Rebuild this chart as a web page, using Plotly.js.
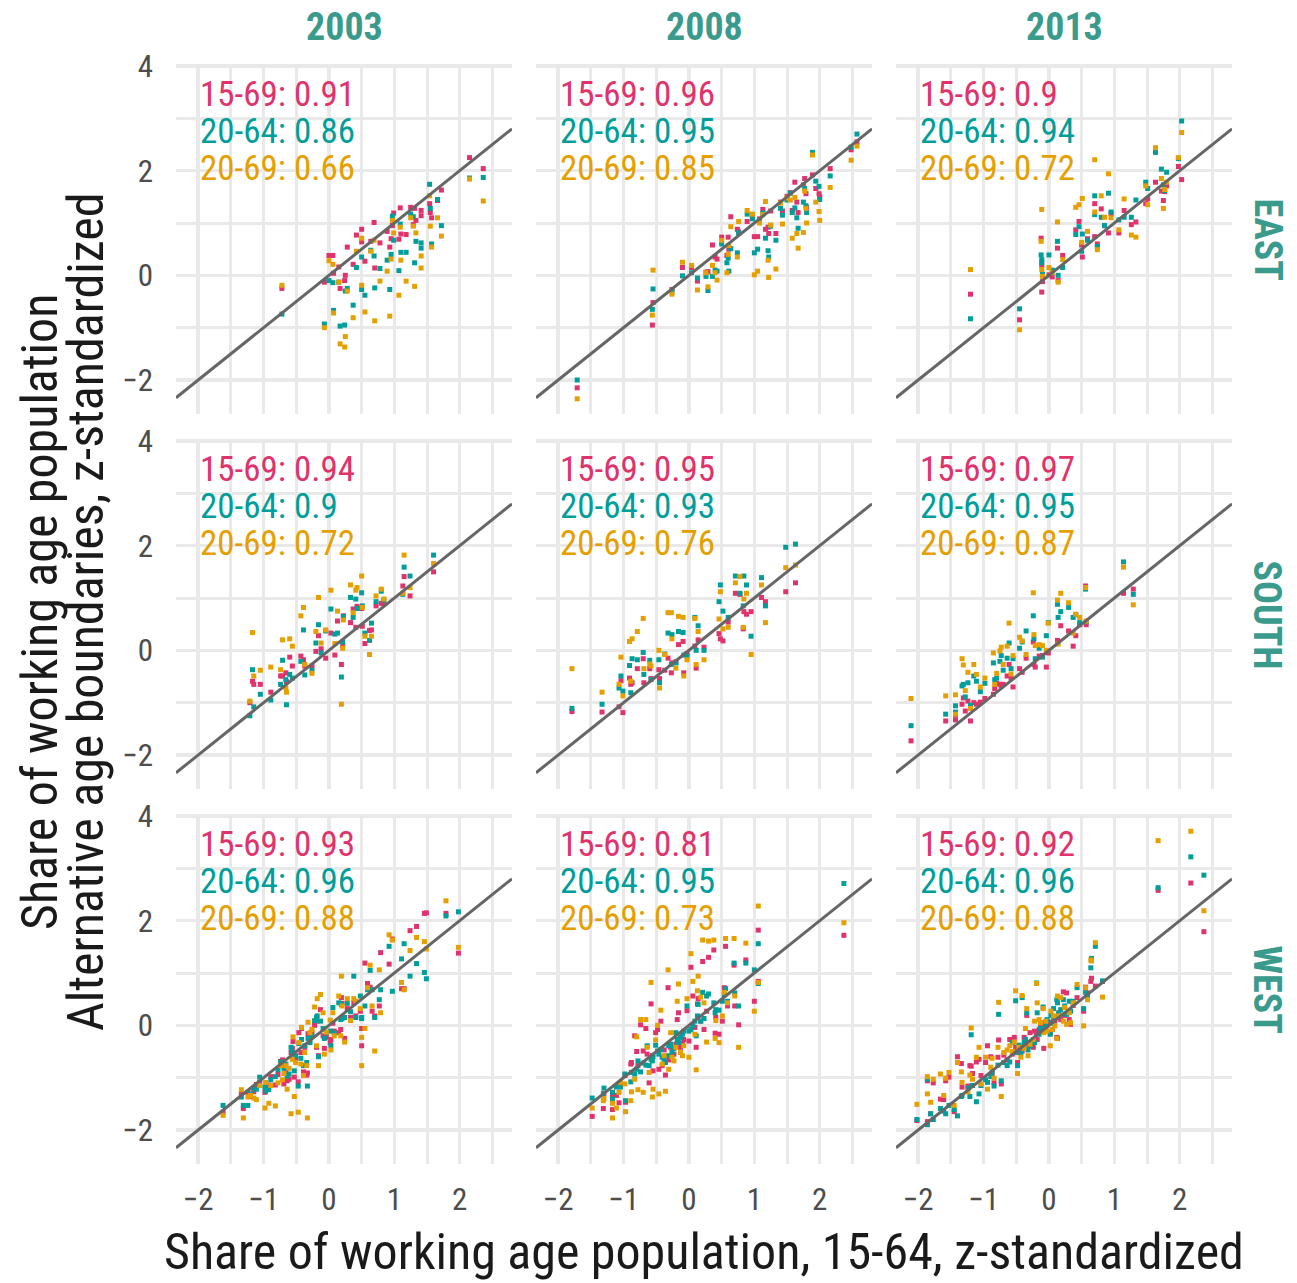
<!DOCTYPE html>
<html>
<head>
<meta charset="utf-8">
<script src="https://cdn.plot.ly/plotly-3.0.1.min.js"></script>
<style>
html,body{margin:0;padding:0;background:#fff;}
#chart{width:1297px;height:1283px;}
.main-svg text{font-stretch:condensed !important;}
</style>
</head>
<body>
<div id="chart"></div>
<script>
// ---------------- DATA ----------------
const years = ['2003', '2008', '2013'];
const regions = ['EAST', 'SOUTH', 'WEST'];
const seriesNames = ['15-69', '20-64', '20-69'];
// correlation labels per panel (row-major: EAST 2003, 2008, 2013, SOUTH ..., WEST ...)
const corr15_69 = [0.91, 0.96, 0.9, 0.94, 0.95, 0.97, 0.93, 0.81, 0.92];
const corr20_64 = [0.86, 0.95, 0.94, 0.9, 0.93, 0.95, 0.96, 0.95, 0.96];
const corr20_69 = [0.66, 0.85, 0.72, 0.72, 0.76, 0.87, 0.88, 0.73, 0.88];

// EAST 2003
const east2003_x = [-0.72,-0.07,0.00,0.06,0.07,0.15,0.17,0.24,0.25,0.28,0.37,0.42,0.50,0.50,0.55,0.64,0.69,0.70,0.78,0.89,0.93,0.95,0.97,0.99,1.07,1.09,1.10,1.18,1.25,1.29,1.31,1.33,1.41,1.41,1.54,1.55,1.57,1.66,1.72,2.15,2.36];
const east2003_a = [-0.25,-0.13,0.38,0.38,0.04,0.16,-0.25,-0.10,0.00,0.54,0.21,0.77,0.88,0.64,0.27,0.65,1.01,0.14,0.62,0.84,0.54,0.70,0.95,1.19,0.69,1.29,0.79,0.78,1.30,0.97,1.28,1.05,1.24,1.14,1.37,1.20,1.10,1.43,1.63,2.25,2.04];
const east2003_b = [-0.74,-0.93,-0.10,-0.14,-0.67,-0.13,-0.97,-0.95,-0.30,-0.25,-0.57,0.15,0.35,-0.27,-0.38,0.48,0.37,-0.24,0.13,0.29,-0.27,0.40,1.13,0.67,0.09,0.98,0.44,0.44,1.17,1.12,0.24,0.65,0.62,0.52,1.74,1.28,0.60,1.45,0.95,1.86,1.87];
const east2003_c = [-0.19,-1.00,0.28,0.21,-0.72,-0.13,-1.31,-1.37,-1.17,-0.30,-0.81,0.46,0.71,-0.19,-0.70,0.46,0.67,-0.87,-0.11,0.08,-0.78,0.31,1.05,0.81,-0.38,0.92,0.29,-0.11,1.10,0.94,-0.21,0.81,0.37,0.14,1.52,0.94,0.54,1.10,0.75,1.84,1.42];

// EAST 2008
const east2008_x = [-1.71,-0.56,-0.55,-0.26,-0.10,0.04,0.13,0.26,0.29,0.36,0.40,0.43,0.50,0.58,0.60,0.61,0.64,0.74,0.76,0.89,0.97,1.00,1.05,1.08,1.13,1.17,1.21,1.22,1.25,1.33,1.40,1.43,1.50,1.55,1.58,1.62,1.65,1.67,1.75,1.77,1.79,1.80,1.89,1.94,1.99,2.00,2.16,2.48,2.57];
const east2008_a = [-2.15,-0.95,-0.52,-0.27,0.15,0.15,-0.11,0.06,0.07,0.58,0.35,0.31,0.73,0.38,0.73,0.50,1.12,0.88,0.83,1.03,1.13,0.74,0.74,1.08,1.26,0.88,0.92,0.80,1.23,0.80,1.40,1.23,1.51,1.58,1.24,1.78,1.40,1.20,1.73,1.85,1.56,1.30,1.92,1.66,1.56,1.50,2.04,2.40,2.55];
const east2008_b = [-2.00,-0.65,-0.26,-0.30,-0.01,0.05,-0.05,-0.02,-0.29,-0.02,0.10,0.08,0.60,0.24,0.33,0.08,0.51,0.43,0.81,1.17,1.08,0.43,0.50,1.05,1.19,0.71,0.47,0.35,0.94,0.67,1.28,1.15,1.44,1.57,1.20,1.29,1.10,0.90,1.40,1.66,1.33,1.20,2.35,1.80,1.70,1.45,1.90,2.45,2.70];
const east2008_c = [-2.36,-0.76,0.10,-0.36,0.25,0.19,-0.28,0.05,-0.22,0.19,0.05,-0.09,0.67,0.05,0.40,0.57,0.93,0.35,1.03,1.24,1.17,0.01,0.08,1.00,1.16,1.41,0.29,-0.04,0.96,0.12,1.38,0.98,1.48,1.44,0.71,1.49,0.80,0.52,0.82,1.61,1.28,1.00,2.30,1.40,1.22,1.05,1.68,2.20,2.47];

// EAST 2013
const east2013_x = [-1.20,-0.45,-0.12,-0.11,-0.10,-0.11,0.00,0.05,0.13,0.14,0.21,0.41,0.46,0.51,0.50,0.59,0.70,0.70,0.74,0.80,0.85,0.91,0.95,1.07,1.15,1.26,1.33,1.48,1.51,1.63,1.72,1.75,1.77,1.80,1.98,2.03];
const east2013_a = [-0.36,-0.85,0.71,0.19,-0.12,-0.32,0.01,-0.03,0.52,-0.10,0.38,0.87,1.03,0.35,0.58,0.70,1.37,0.74,0.60,1.27,0.95,0.81,1.18,0.81,1.24,0.97,1.02,1.37,1.46,1.78,1.61,1.43,1.60,1.71,2.08,1.83];
const east2013_b = [-0.83,-0.64,0.39,0.30,0.02,0.24,0.39,0.10,0.65,0.00,0.15,0.78,0.93,0.79,0.46,0.67,1.52,1.16,0.55,1.11,0.95,1.57,1.21,1.06,1.11,1.11,1.44,1.78,1.66,2.35,2.03,1.73,1.62,1.97,2.23,2.95];
const east2013_c = [0.11,-1.04,0.65,0.11,-0.02,1.26,0.15,0.05,1.02,-0.13,0.30,1.30,1.35,1.47,0.63,0.84,2.21,1.21,0.49,1.52,1.11,1.94,1.10,0.87,1.46,0.77,0.73,1.71,1.35,2.44,1.85,1.28,1.64,1.78,2.25,2.73];

// SOUTH 2003
const south2003_x = [-1.21,-1.17,-1.15,-1.05,-0.89,-0.74,-0.71,-0.66,-0.65,-0.60,-0.56,-0.43,-0.39,-0.37,-0.26,-0.20,-0.16,-0.12,-0.05,0.03,0.09,0.13,0.19,0.21,0.22,0.33,0.37,0.41,0.43,0.50,0.51,0.55,0.62,0.65,0.72,0.80,0.84,1.13,1.15,1.24,1.60];
const south2003_a = [-1.00,-0.59,-0.65,-0.65,-0.80,-0.49,-0.49,-0.43,-0.60,-0.13,-0.30,-0.11,-0.18,-0.30,-0.30,-0.02,0.28,0.03,-0.15,0.33,-0.09,0.56,-0.27,0.09,0.66,0.53,0.79,0.44,0.84,0.80,0.46,0.13,0.38,0.39,0.85,0.90,0.89,1.23,1.41,1.04,1.50];
const south2003_b = [-1.25,-0.37,-1.08,-0.84,-0.95,-0.65,-0.19,-0.56,-1.04,-0.46,-0.53,-0.21,0.39,-0.47,-0.38,0.14,0.49,-0.05,0.37,0.79,0.31,0.33,-0.51,0.16,0.65,1.01,0.63,0.98,0.80,1.10,0.85,0.33,0.19,0.52,0.93,1.13,0.96,1.07,1.59,1.42,1.82];
const south2003_c = [-0.97,0.34,-0.49,-0.38,-0.32,-0.37,0.20,-0.72,-0.80,0.22,0.08,0.66,0.82,-0.27,-0.44,0.36,1.01,0.14,0.39,1.15,0.13,0.75,-1.03,0.04,0.58,1.25,0.72,1.15,1.20,1.42,0.82,0.27,-0.08,0.27,1.04,1.17,0.98,1.09,1.82,1.20,1.66];

// SOUTH 2008
const south2008_x = [-1.79,-1.33,-1.07,-1.04,-1.01,-0.91,-0.89,-0.87,-0.79,-0.70,-0.69,-0.60,-0.58,-0.46,-0.45,-0.37,-0.32,-0.27,-0.26,-0.20,-0.16,-0.09,-0.08,-0.03,0.09,0.11,0.14,0.23,0.46,0.48,0.52,0.60,0.71,0.78,0.83,0.84,0.88,0.95,1.11,1.17,1.48,1.63];
const south2008_a = [-1.17,-1.18,-1.08,-0.58,-1.19,-0.53,-0.65,-0.62,-0.35,-0.16,-0.62,-0.35,-0.54,-0.37,-0.54,-0.38,-0.15,-0.43,-0.24,-0.22,0.11,0.17,-0.43,-0.06,0.08,-0.34,0.20,0.06,0.32,0.22,0.18,0.54,1.09,1.07,0.41,0.74,0.69,0.74,1.01,0.93,1.12,1.29];
const south2008_b = [-1.11,-1.03,-0.72,-0.49,-0.78,-0.29,-0.81,-0.16,-0.18,-0.04,-0.46,-0.19,-0.56,-0.18,-0.62,-0.07,0.33,-0.27,0.30,-0.24,0.36,0.34,-0.09,-0.11,0.63,0.00,0.47,0.00,0.93,1.25,0.75,0.63,1.42,1.09,0.85,1.42,1.25,0.27,1.39,0.85,1.97,2.03];
const south2008_c = [-0.35,-0.80,-0.65,-0.13,-0.87,0.17,-0.59,0.22,0.36,0.61,-0.35,-0.26,-0.30,0.00,-0.72,-0.08,0.72,0.72,0.22,-0.34,0.65,0.63,-0.49,-0.18,0.61,-0.27,0.36,-0.18,0.60,1.12,0.41,0.44,1.29,1.41,0.44,0.98,1.09,-0.08,1.25,0.53,1.58,1.63];

// SOUTH 2013
const south2013_x = [-2.11,-1.58,-1.43,-1.43,-1.33,-1.31,-1.28,-1.24,-1.20,-1.15,-1.11,-1.05,-0.98,-0.85,-0.83,-0.80,-0.75,-0.73,-0.70,-0.64,-0.61,-0.58,-0.55,-0.45,-0.41,-0.35,-0.24,-0.23,-0.21,-0.15,-0.10,-0.04,-0.01,0.13,0.14,0.18,0.30,0.37,0.41,0.47,0.56,0.57,1.14,1.29];
const south2013_a = [-1.73,-1.35,-1.33,-1.24,-1.03,-0.91,-1.16,-0.97,-1.35,-1.00,-1.03,-0.99,-0.92,-0.84,-0.73,-0.63,-0.65,-0.68,-0.65,-0.49,-0.27,-0.53,-0.70,-0.35,-0.42,-0.15,0.16,-0.27,-0.32,-0.11,-0.10,-0.32,-0.05,0.19,0.17,0.47,0.37,0.08,0.28,0.49,1.23,0.49,1.09,1.17];
const south2013_b = [-1.44,-1.22,-1.06,-1.18,-0.68,-0.65,-0.89,-0.62,-1.05,-0.49,-0.59,-0.79,-0.63,-0.24,-0.56,-0.53,-0.21,-0.10,-0.38,-0.15,0.14,-0.35,-0.16,0.04,0.16,0.37,0.66,0.22,-0.16,0.04,-0.13,0.28,0.53,0.88,0.63,0.74,0.82,0.63,0.68,0.53,1.17,0.55,1.69,1.07];
const south2013_c = [-0.92,-0.87,-0.85,-1.22,-0.16,-0.28,-0.77,-0.42,-1.11,-0.27,-0.46,-0.70,-0.53,-0.05,-0.65,-0.44,-0.01,0.06,-0.27,0.08,0.52,-0.45,-0.10,0.25,0.18,-0.08,1.10,0.30,0.09,0.11,0.09,0.00,0.52,0.96,0.12,1.09,0.91,0.33,0.69,0.63,1.20,0.56,1.59,0.87];

// WEST 2003
const west2003_x = [-1.62,-1.34,-1.31,-1.24,-1.20,-1.15,-1.11,-1.06,-0.98,-0.97,-0.92,-0.89,-0.82,-0.78,-0.74,-0.71,-0.69,-0.66,-0.64,-0.61,-0.58,-0.56,-0.55,-0.53,-0.51,-0.47,-0.46,-0.43,-0.42,-0.39,-0.37,-0.34,-0.33,-0.32,-0.29,-0.26,-0.22,-0.19,-0.18,-0.16,-0.13,-0.09,-0.07,-0.04,0.02,0.03,0.06,0.08,0.15,0.18,0.19,0.20,0.24,0.28,0.33,0.38,0.41,0.48,0.50,0.50,0.55,0.59,0.63,0.66,0.70,0.77,0.79,0.92,0.97,1.11,1.15,1.24,1.34,1.46,1.49,1.79,1.98];
const west2003_a = [-1.66,-1.30,-1.59,-1.28,-1.36,-1.27,-1.13,-1.09,-1.28,-1.17,-1.14,-0.98,-1.14,-0.94,-0.69,-0.66,-1.12,-0.89,-1.06,-1.03,-0.52,-0.44,-0.31,-0.99,-0.63,-1.08,-0.14,-0.52,-0.06,-0.89,-0.42,-0.95,-0.91,-0.16,-0.23,-0.13,0.00,-0.42,0.08,-0.58,0.30,-0.20,-0.44,-0.23,-0.33,-0.27,0.04,-0.11,-0.14,-0.08,0.53,0.42,-0.25,0.32,0.15,0.43,0.18,0.27,-0.39,-0.06,1.19,0.80,0.73,0.27,0.18,0.37,1.39,1.17,1.65,0.70,0.70,1.81,1.89,2.14,2.15,2.14,1.38];
const west2003_b = [-1.53,-1.37,-1.53,-1.53,-1.31,-1.20,-1.22,-0.99,-1.18,-1.26,-1.23,-1.04,-0.98,-0.85,-0.70,-0.77,-0.82,-0.74,-0.97,-0.93,-0.42,-0.52,-0.55,-0.87,-0.58,-1.16,-0.35,-0.63,-0.27,-0.77,-0.39,-0.71,-1.16,-0.25,-0.33,-0.20,0.09,0.15,0.18,-0.60,0.08,-0.06,-0.25,-0.14,-0.11,-0.39,0.34,-0.15,0.43,0.11,0.40,0.13,0.15,0.42,0.26,0.94,0.15,0.56,0.15,0.13,0.37,0.68,1.05,0.68,0.15,0.49,0.68,1.51,0.65,1.27,1.56,0.94,1.18,1.01,0.89,2.09,2.17];
const west2003_c = [-1.72,-1.23,-1.77,-1.37,-1.34,-1.39,-1.42,-1.15,-1.58,-1.09,-1.49,-1.15,-1.54,-1.10,-0.77,-1.04,-0.92,-0.77,-1.22,-0.82,-1.69,-0.65,-0.22,-1.36,-0.71,-1.66,-0.33,-0.74,-0.04,-0.96,-0.52,-0.77,-1.77,0.06,-0.14,-0.08,0.35,-0.39,0.51,-0.77,0.59,0.24,-0.55,-0.13,0.10,-0.47,0.24,-0.20,0.56,-0.20,0.94,0.37,-0.32,0.51,0.09,0.51,0.46,0.32,-0.77,-0.23,-0.06,0.72,1.15,0.37,-0.49,1.06,0.24,1.73,1.63,0.82,0.68,1.43,1.68,1.60,1.46,2.38,1.49];

// WEST 2008
const west2008_x = [-1.48,-1.31,-1.30,-1.17,-1.17,-1.11,-1.07,-1.05,-0.98,-0.97,-0.89,-0.88,-0.83,-0.80,-0.78,-0.74,-0.70,-0.66,-0.64,-0.61,-0.58,-0.56,-0.55,-0.51,-0.48,-0.46,-0.43,-0.41,-0.38,-0.36,-0.32,-0.31,-0.28,-0.26,-0.23,-0.20,-0.18,-0.16,-0.13,-0.10,-0.08,-0.03,0.00,0.03,0.06,0.09,0.11,0.13,0.14,0.18,0.21,0.23,0.27,0.30,0.38,0.40,0.41,0.46,0.51,0.54,0.56,0.59,0.69,0.70,0.76,0.87,1.00,1.06,1.06,2.37];
const west2008_a = [-1.74,-1.59,-1.30,-1.61,-1.36,-1.34,-1.48,-1.15,-0.96,-1.47,-0.74,-0.71,-0.20,-0.50,-0.77,0.01,-0.49,-0.06,-0.55,-1.10,0.41,-0.58,-0.87,-0.14,-0.08,-0.84,0.08,-0.77,-0.47,-0.95,0.72,-0.66,-0.42,-0.59,-0.55,-0.36,0.11,0.24,-0.42,-0.35,-0.27,0.28,-0.30,1.11,0.56,-0.04,-0.42,0.41,0.51,0.08,1.22,-0.08,0.27,1.30,1.44,-0.15,0.15,-0.17,0.08,0.72,1.51,0.37,1.15,0.37,0.01,1.25,0.46,1.82,0.84,1.72];
const west2008_b = [-1.39,-1.31,-1.20,-1.41,-1.28,-1.18,-1.15,-1.18,-0.93,-1.44,-1.08,-0.90,-0.93,-0.84,-0.68,-0.89,-0.72,-0.76,-0.39,-0.77,-0.65,-0.68,-0.60,-0.38,-0.49,-0.55,-0.46,-0.61,-0.65,-0.71,-0.58,-0.39,-0.36,-0.51,-0.44,-0.14,-0.27,-0.33,-0.23,-0.17,-0.11,0.37,-0.11,-0.08,0.00,0.08,-0.20,0.18,0.40,0.08,0.63,0.13,0.56,0.60,0.43,0.24,0.30,0.29,0.46,0.59,0.70,0.46,1.19,0.62,0.37,1.19,1.06,1.56,0.80,2.71];
const west2008_c = [-1.58,-1.44,-1.40,-1.77,-1.49,-1.58,-1.28,-1.09,-1.12,-1.65,-1.44,-1.27,-1.03,-0.22,-1.23,0.11,-1.28,0.11,-0.42,-0.90,0.82,-1.37,-1.22,-0.28,0.00,-1.31,0.29,-0.74,-0.58,-1.26,1.06,-0.84,-0.14,-0.61,-0.68,-0.42,0.46,0.79,-0.52,-0.58,-0.39,0.51,-0.61,1.37,0.84,-0.17,-0.85,0.66,0.94,0.54,1.63,0.43,-0.32,1.61,1.63,-0.25,0.09,-0.33,0.18,0.63,1.66,0.43,1.66,0.56,-0.42,1.57,0.27,2.28,0.82,1.96];

// WEST 2013
const west2013_x = [-2.02,-1.86,-1.86,-1.81,-1.77,-1.66,-1.61,-1.58,-1.53,-1.45,-1.40,-1.34,-1.33,-1.24,-1.21,-1.19,-1.17,-1.11,-1.07,-1.04,-0.97,-0.94,-0.89,-0.87,-0.84,-0.78,-0.77,-0.73,-0.69,-0.64,-0.60,-0.56,-0.53,-0.51,-0.48,-0.46,-0.43,-0.41,-0.38,-0.36,-0.34,-0.32,-0.29,-0.24,-0.22,-0.19,-0.18,-0.15,-0.13,-0.09,-0.08,-0.05,-0.03,0.02,0.03,0.05,0.07,0.09,0.12,0.13,0.15,0.18,0.22,0.24,0.27,0.31,0.33,0.37,0.43,0.53,0.56,0.59,0.64,0.65,0.71,0.82,1.67,2.17,2.37];
const west2013_a = [-1.82,-1.84,-1.06,-1.69,-1.10,-1.41,-1.42,-1.06,-0.99,-1.65,-0.60,-0.73,-1.18,-1.16,-0.77,-0.78,-0.92,-0.70,-0.65,-0.96,-0.71,-0.39,-0.60,-0.92,-1.10,-0.61,-0.28,-1.12,-0.57,-0.66,-0.27,-0.55,-0.23,-0.42,-0.71,-0.52,-0.42,-0.49,-0.23,-0.42,0.19,-0.33,-0.14,-0.42,-0.11,-0.14,-0.27,-0.08,-0.03,0.05,-0.44,-0.04,0.08,-0.14,0.06,-0.08,0.15,0.08,-0.23,-0.25,0.24,0.11,0.64,0.19,0.62,0.11,0.02,0.38,0.53,0.27,0.73,0.62,0.84,0.90,0.75,0.84,2.58,2.72,1.79];
const west2013_b = [-1.80,-1.90,-1.03,-1.69,-1.80,-1.59,-1.64,-1.69,-1.53,-1.61,-1.73,-1.36,-1.34,-1.20,-1.36,-0.18,-1.15,-1.46,-1.31,-1.15,-1.04,-1.09,-0.98,-0.89,-1.16,-0.76,0.21,-1.06,-0.71,-0.77,-0.70,-0.33,-0.52,0.47,-0.77,-0.38,-0.53,0.53,-0.33,-0.27,0.24,-0.47,-0.39,-0.30,-0.33,0.81,0.24,-0.17,-0.06,0.35,-0.11,-0.01,0.11,-0.17,0.19,0.04,0.32,0.15,0.49,0.43,0.23,0.30,0.49,0.37,0.21,0.46,0.27,0.46,0.72,0.32,0.63,0.56,1.10,1.28,1.51,0.85,2.63,3.22,2.87];
const west2013_c = [-1.51,-1.31,-0.98,-1.47,-1.03,-0.93,-1.34,-1.01,-0.90,-1.53,-0.71,-0.89,-1.09,-1.27,-0.95,-0.05,-1.03,-0.61,-0.42,-1.12,-0.61,-1.22,-0.80,-0.63,-1.01,-0.42,0.44,-1.36,-0.52,-0.47,-0.39,-0.50,-0.32,0.66,-0.92,-0.42,-0.61,0.57,-0.44,-0.06,0.32,-0.58,-0.36,-0.27,0.08,0.80,0.43,0.11,0.05,0.32,-0.14,0.08,-0.11,-0.39,0.27,-0.08,0.18,-0.01,-0.25,0.56,0.18,0.53,0.08,0.34,0.02,0.24,0.05,0.43,0.78,-0.01,0.72,0.49,1.25,1.23,1.58,0.54,3.53,3.71,2.19];

// ---------------- CHART ----------------
const panelData = [
  [east2003_x, east2003_a, east2003_b, east2003_c],
  [east2008_x, east2008_a, east2008_b, east2008_c],
  [east2013_x, east2013_a, east2013_b, east2013_c],
  [south2003_x, south2003_a, south2003_b, south2003_c],
  [south2008_x, south2008_a, south2008_b, south2008_c],
  [south2013_x, south2013_a, south2013_b, south2013_c],
  [west2003_x, west2003_a, west2003_b, west2003_c],
  [west2008_x, west2008_a, west2008_b, west2008_c],
  [west2013_x, west2013_a, west2013_b, west2013_c]
];
const corrs = [corr15_69, corr20_64, corr20_69];

const W = 1297, H = 1283;
const FONT = 'Roboto Condensed, Roboto, sans-serif';
const colors = ['#E0336B', '#009E9A', '#E5A000'];
const stripColor = '#3A9A8C';
const gridColor = '#E9E9E9';
const tickColor = '#4D4D4D';
const titleColor = '#1A1A1A';
const colLeft = [176, 536, 896], panelW = 336;
const rowTop = [65, 440, 815], panelH = 349;
const xRange = [-2.34, 2.80];
const yRange = [-2.65, 4.02];

const traces = [];
const layout = {
  width: W, height: H,
  margin: {l: 0, r: 0, t: 0, b: 0},
  paper_bgcolor: '#ffffff', plot_bgcolor: '#ffffff',
  showlegend: false,
  font: {family: FONT, color: tickColor},
  annotations: [],
  hovermode: false
};

for (let r = 0; r < 3; r++) {
  for (let c = 0; c < 3; c++) {
    const i = r * 3 + c;
    const k = i + 1;
    const xa = 'x' + (k > 1 ? k : '');
    const ya = 'y' + (k > 1 ? k : '');
    const d = panelData[i];
    for (let s = 0; s < 3; s++) {
      traces.push({
        type: 'scatter', mode: 'markers',
        x: d[0], y: d[s + 1],
        xaxis: xa, yaxis: ya,
        marker: {symbol: 'square', size: 5, color: colors[s], line: {width: 0}},
        hoverinfo: 'skip'
      });
    }
    // reference line y = x across the panel range
    traces.push({
      type: 'scatter', mode: 'lines',
      x: xRange, y: xRange,
      xaxis: xa, yaxis: ya,
      line: {color: '#666666', width: 3},
      hoverinfo: 'skip'
    });
    layout['xaxis' + (k > 1 ? k : '')] = {
      domain: [colLeft[c] / W, (colLeft[c] + panelW) / W],
      anchor: ya, range: xRange, fixedrange: true,
      showgrid: true, gridcolor: gridColor, gridwidth: 3.5,
      dtick: 1, tick0: 0, zeroline: false, showline: false, ticks: '',
      minor: {dtick: 0.5, tick0: 0, showgrid: true, gridcolor: gridColor, gridwidth: 3},
      showticklabels: r === 2, ticklabelstandoff: 14,
      tickfont: {family: FONT, size: 31, color: tickColor}
    };
    layout['yaxis' + (k > 1 ? k : '')] = {
      domain: [1 - (rowTop[r] + panelH) / H, 1 - rowTop[r] / H],
      anchor: xa, range: yRange, fixedrange: true,
      showgrid: true, gridcolor: gridColor, gridwidth: 3.5,
      dtick: 2, tick0: 0, zeroline: false, showline: false, ticks: '',
      minor: {dtick: 1, tick0: 0, showgrid: true, gridcolor: gridColor, gridwidth: 3},
      showticklabels: c === 0, ticklabelstandoff: 22,
      tickfont: {family: FONT, size: 31, color: tickColor}
    };
    const yPos = [3.45, 2.75, 2.05];
    for (let s = 0; s < 3; s++) {
      layout.annotations.push({
        xref: xa, yref: ya, x: -2.0, y: yPos[s],
        xanchor: 'left', yanchor: 'middle', showarrow: false,
        text: seriesNames[s] + ': ' + String(corrs[s][i]),
        font: {family: FONT, size: 35, color: colors[s]}
      });
    }
  }
}
// strip labels
for (let c = 0; c < 3; c++) {
  layout.annotations.push({
    xref: 'paper', yref: 'paper',
    x: (colLeft[c] + panelW / 2) / W, y: 1 - 27 / H,
    xanchor: 'center', yanchor: 'middle', showarrow: false,
    text: '<b>' + years[c] + '</b>',
    font: {family: FONT, size: 38, color: stripColor}
  });
}
for (let r = 0; r < 3; r++) {
  layout.annotations.push({
    xref: 'paper', yref: 'paper',
    x: 1267 / W, y: 1 - (rowTop[r] + panelH / 2) / H,
    xanchor: 'center', yanchor: 'middle', showarrow: false, textangle: 90,
    text: '<b>' + regions[r] + '</b>',
    font: {family: FONT, size: 38, color: stripColor}
  });
}
// axis titles
layout.annotations.push({
  xref: 'paper', yref: 'paper',
  x: (colLeft[0] + (colLeft[2] + panelW)) / 2 / W, y: 1 - 1252 / H,
  xanchor: 'center', yanchor: 'middle', showarrow: false,
  text: 'Share of working age population, 15-64, z-standardized',
  font: {family: FONT, size: 50, color: titleColor}
});
const yTitleLines = ['Share of working age population', 'Alternative age boundaries, z-standardized'];
const yTitleX = [40, 86];
for (let j = 0; j < 2; j++) {
  layout.annotations.push({
    xref: 'paper', yref: 'paper',
    x: yTitleX[j] / W, y: 1 - 612 / H,
    xanchor: 'center', yanchor: 'middle', showarrow: false, textangle: -90,
    text: yTitleLines[j],
    font: {family: FONT, size: 50, color: titleColor}
  });
}

Plotly.newPlot('chart', traces, layout, {staticPlot: true, displayModeBar: false});
</script>
</body>
</html>
